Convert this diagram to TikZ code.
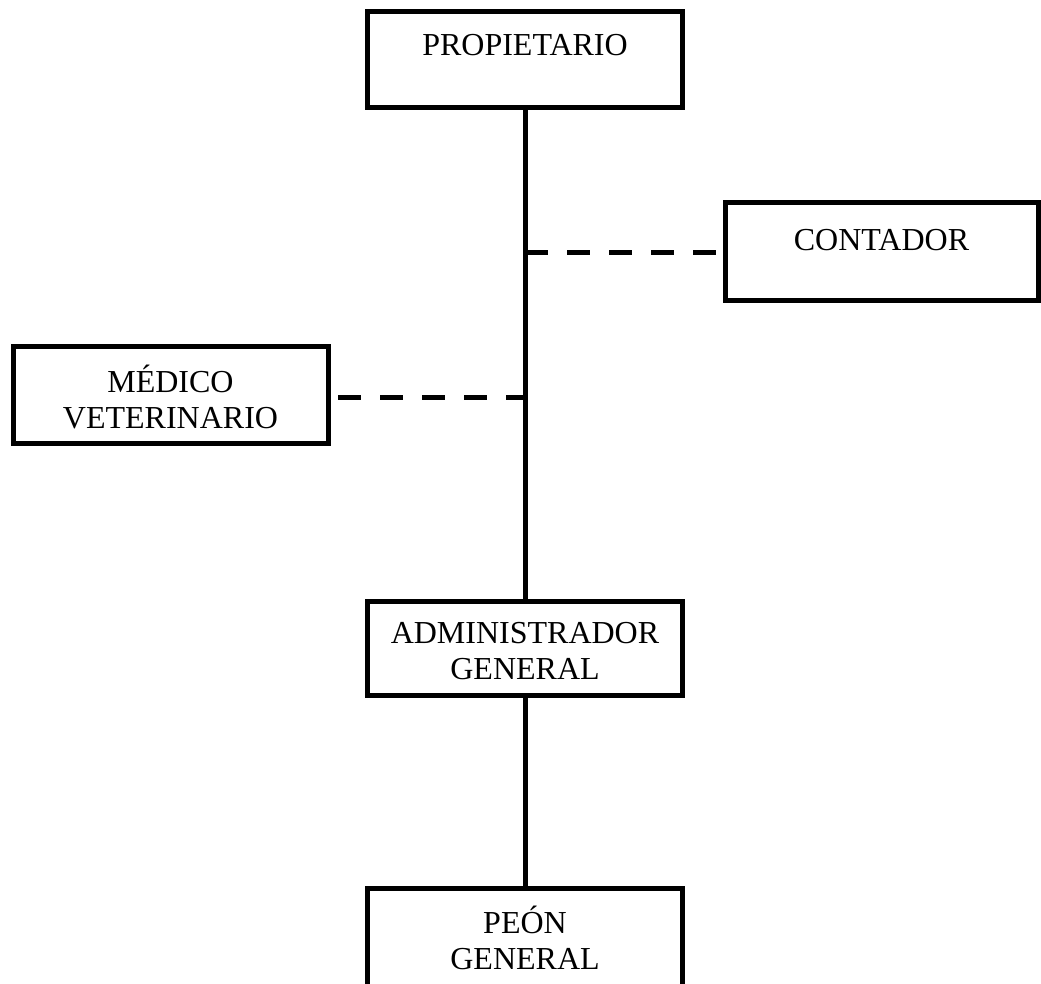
\documentclass[tikz,border=0pt]{standalone}
\usepackage{fontspec}
\setmainfont{Liberation Serif}
\begin{document}
\begin{tikzpicture}[x=1pt,y=-1pt,
  box/.style={draw, line width=5pt, minimum width=315pt, minimum height=96pt, inner sep=0pt, outer sep=0pt},
  lbl/.style={font=\fontsize{32}{36}\selectfont, align=center, inner sep=0pt},
  solidline/.style={line width=5pt},
  dashline/.style={line width=5pt, dash pattern=on 23pt off 19pt}]
\useasboundingbox (0,0) rectangle (1041,984);
\node[box] (prop) at (525,60) {};
\node[box, minimum width=313pt, minimum height=97pt] (cont) at (881.5,251.5) {};
\node[box, minimum height=97pt] (med) at (170.5,394.5) {};
\node[box, minimum height=94pt] (adm) at (525,648.5) {};
\node[box, minimum height=100pt] (peon) at (525,938) {};
\node[lbl] (tprop) at (525,45) {PROPIETARIO};
\node[lbl] (tcont) at (881.5,240) {CONTADOR};
\node[lbl] (tmed) at (170.5,397.5) {MÉDICO\\VETERINARIO};
\node[lbl] (tadm) at (525,651) {ADMINISTRADOR\\GENERAL};
\node[lbl] (tpeon) at (525,938) {PEÓN\\GENERAL};
\draw[solidline] (prop.south) -- (adm.north);
\draw[solidline] (adm.south) -- (peon.north);
\coordinate (jc) at (525,253);
\coordinate (jm) at (525,397);
\draw[dashline] (jc) -- (jc -| cont.west);
\draw[dashline, dash phase=32pt] (med.east |- jm) -- (jm);
\end{tikzpicture}
\end{document}
